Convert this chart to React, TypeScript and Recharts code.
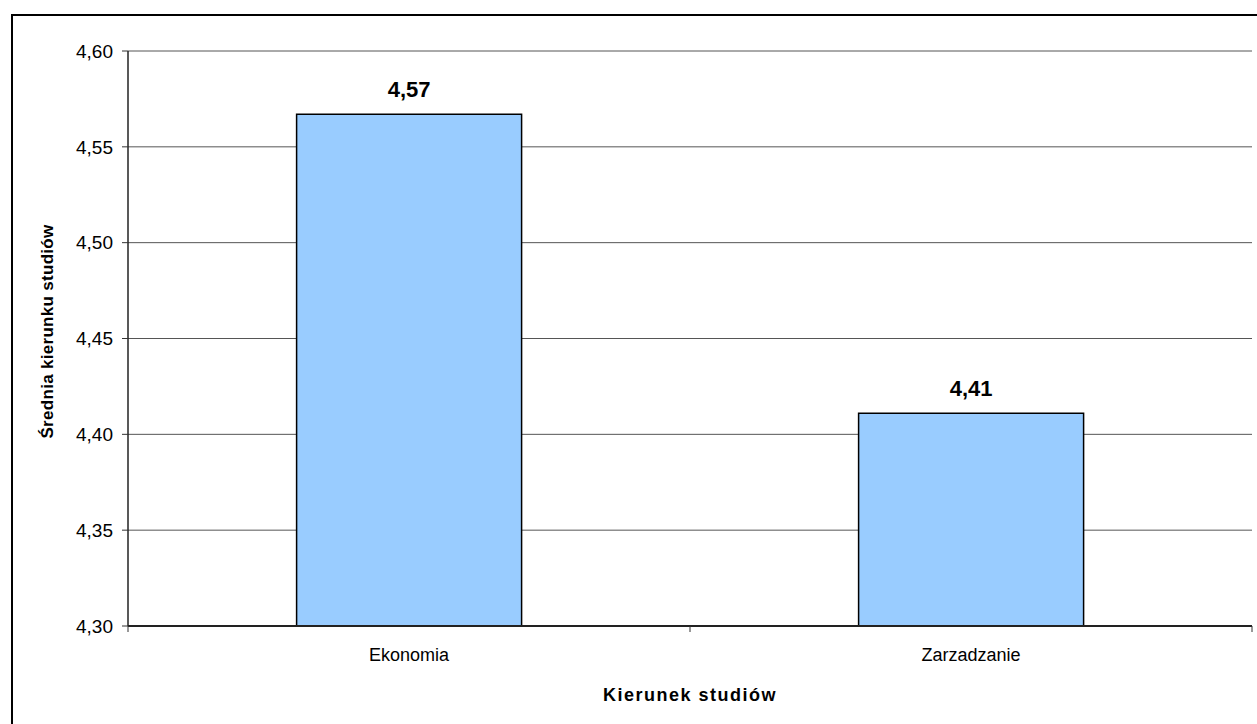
import {
  BarChart,
  Bar,
  XAxis,
  YAxis,
  CartesianGrid,
  LabelList,
  Label,
} from 'recharts'

const categories = ['Ekonomia', 'Zarzadzanie']
const averages = [4.567, 4.411]
const yTicks = [4.3, 4.35, 4.4, 4.45, 4.5, 4.55, 4.6]

const data = categories.map((name, i) => ({ name, value: averages[i] }))

const FONT = '"Liberation Sans", Arial, sans-serif'

const fmt = (v: number) => Number(v).toFixed(2).replace('.', ',')

function CategoryTick(props: any) {
  const { x, y, payload, index, visibleTicksCount } = props
  const off = payload?.offset ?? 0
  const isLast = index === visibleTicksCount - 1
  return (
    <g>
      <line x1={x - off} x2={x - off} y1={y} y2={y + 6} stroke="#333" strokeWidth={1} />
      {isLast && (
        <line x1={x + off} x2={x + off} y1={y} y2={y + 6} stroke="#333" strokeWidth={1} />
      )}
      <text x={x} y={y + 35} textAnchor="middle" fontSize={18} fontFamily={FONT} fill="#000">
        {payload.value}
      </text>
    </g>
  )
}

function YTitle(props: any) {
  const { viewBox } = props
  const cx = viewBox.x + 47
  const cy = viewBox.y + viewBox.height / 2 - 7
  return (
    <text
      x={cx}
      y={cy}
      transform={`rotate(-90 ${cx} ${cy})`}
      textAnchor="middle"
      dominantBaseline="central"
      fontSize={17}
      fontWeight="bold"
      letterSpacing={0.3}
      fontFamily={FONT}
      fill="#000"
    >
      Średnia kierunku studiów
    </text>
  )
}

function XTitle(props: any) {
  const { viewBox } = props
  const cx = viewBox.x + viewBox.width / 2
  return (
    <text
      x={cx}
      y={viewBox.y + 75}
      textAnchor="middle"
      fontSize={18}
      fontWeight="bold"
      letterSpacing={1.5}
      fontFamily={FONT}
      fill="#000"
    >
      Kierunek studiów
    </text>
  )
}

export default function App() {
  return (
    <div
      style={{
        position: 'absolute',
        left: 0,
        top: 0,
        width: 1257,
        height: 724,
        overflow: 'hidden',
        background: '#fff',
        fontFamily: FONT,
      }}
    >
      <div
        style={{
          position: 'absolute',
          left: 11,
          top: 14,
          width: 1400,
          height: 900,
          border: '2px solid #000',
        }}
      />
      <div style={{ position: 'absolute', left: 0, top: 0 }}>
        <BarChart
          width={1257}
          height={724}
          data={data}
          margin={{ top: 51, right: 5, bottom: 0, left: 0 }}
          barCategoryGap="30%"
        >
          <CartesianGrid vertical={false} stroke="#555" strokeWidth={1} />
          <XAxis
            dataKey="name"
            height={98}
            tickLine={false}
            tickSize={0}
            tickMargin={0}
            axisLine={{ stroke: '#222', strokeWidth: 2 }}
            tick={<CategoryTick />}
            interval={0}
          >
            <Label content={<XTitle />} />
          </XAxis>
          <XAxis xAxisId="top" orientation="top" height={0} tick={false} tickLine={false} axisLine={{ stroke: '#888', strokeWidth: 2 }} />
          <YAxis
            width={128}
            domain={[4.3, 4.6]}
            ticks={yTicks}
            allowDataOverflow
            tickFormatter={fmt}
            tickSize={6}
            tickMargin={9}
            tick={{ fill: '#000', fontSize: 19, fontFamily: FONT }}
            tickLine={{ stroke: '#333' }}
            axisLine={{ stroke: '#222', strokeWidth: 1.5 }}
          >
            <Label content={<YTitle />} />
          </YAxis>
          <YAxis yAxisId="right" orientation="right" width={0} tick={false} tickLine={false} axisLine={{ stroke: '#888', strokeWidth: 2 }} />
          <Bar dataKey="value" fill="#99CCFF" stroke="#000" strokeWidth={1.5} isAnimationActive={false}>
            <LabelList
              dataKey="value"
              position="top"
              offset={17}
              formatter={(v: any) => fmt(v)}
              style={{ fontSize: 22, fontWeight: 'bold', fill: '#000', fontFamily: FONT }}
            />
          </Bar>
        </BarChart>
      </div>
    </div>
  )
}
